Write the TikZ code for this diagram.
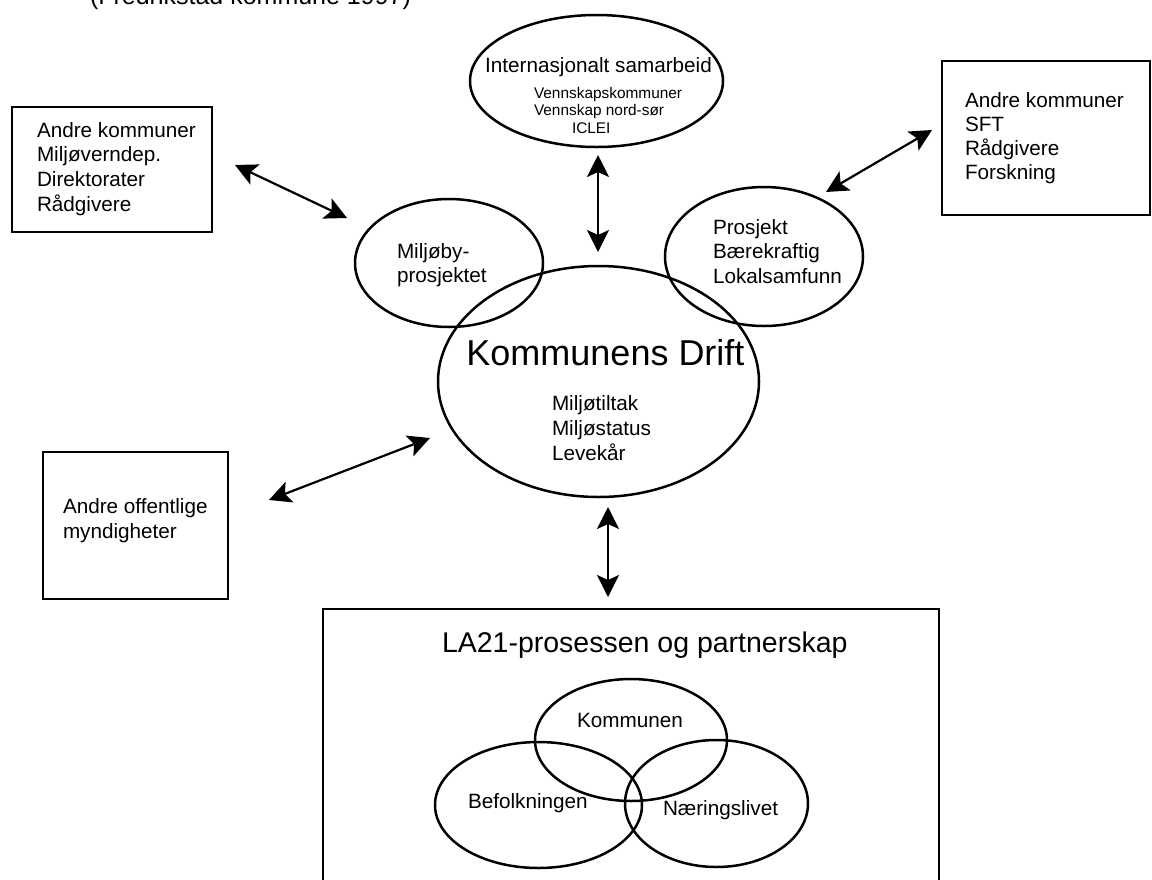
\documentclass[tikz,border=0pt]{standalone}
\usepackage{fontspec}
\setmainfont{Liberation Sans}
\usetikzlibrary{arrows.meta,shapes.geometric}
\newcommand{\mlL}[1]{\begin{tabular}[t]{@{}l@{}}#1\end{tabular}}
\tikzset{
  shp/.style={draw, line width=2.5pt, inner sep=0pt, outer sep=0pt},
  ell/.style={shp, ellipse},
  box/.style={shp, rectangle},
  txt/.style={anchor=base west, inner sep=0pt, outer sep=0pt, font=\fontsize{20.7}{24.8}\selectfont},
  con/.style={line width=2.2pt, {Stealth[length=22pt,width=22pt,inset=5pt]}-{Stealth[length=22pt,width=22pt,inset=5pt]}}
}
\begin{document}
\begin{tikzpicture}[x=1pt,y=-1pt]
\useasboundingbox (0,0) rectangle (1152,879);
\clip (0,0) rectangle (1152,879);
% caption (cut at top, as in the reference)
\node[txt, font=\fontsize{25}{30}\selectfont] (cap) at (90,4.5) {(Fredrikstad kommune 1997)};
% boxes
\node[box, minimum width=200pt, minimum height=125pt] (tl) at (112,169.5) {};
\node[box, minimum width=208pt, minimum height=154pt] (tr) at (1046,138) {};
\node[box, minimum width=185pt, minimum height=147pt] (lm) at (135.5,525.5) {};
\node[box, minimum width=616pt, minimum height=291pt] (la) at (631,754.5) {};
% ellipses
\node[ell, minimum width=253pt, minimum height=132pt] (int) at (596.5,81) {};
\node[ell, minimum width=188pt, minimum height=128pt] (mb) at (449,263) {};
\node[ell, minimum width=198pt, minimum height=139pt] (pb) at (764,256.5) {};
\node[ell, minimum width=321pt, minimum height=231pt] (kd) at (598.5,381.5) {};
\node[ell, minimum width=192pt, minimum height=122pt] (ko) at (631,740) {};
\node[ell, minimum width=207pt, minimum height=126pt] (be) at (538.5,805) {};
\node[ell, minimum width=183pt, minimum height=127pt] (nl) at (716.5,803.5) {};
% texts
\node[txt] (tlt) at (37,137) {\mlL{Andre kommuner\\Miljøverndep.\\Direktorater\\Rådgivere}};
\node[txt, font=\fontsize{20.7}{24.3}\selectfont] (trt) at (965,107) {\mlL{Andre kommuner\\SFT\\Rådgivere\\Forskning}};
\node[txt, font=\fontsize{20.7}{25}\selectfont] (lmt) at (63,513) {\mlL{Andre offentlige\\myndigheter}};
\node[txt, anchor=base] (intt) at (598.5,72) {Internasjonalt samarbeid};
\node[txt, font=\fontsize{15.4}{17.5}\selectfont] (ints) at (534,98) {\mlL{Vennskapskommuner\\Vennskap nord-sør\\\hspace*{38pt}ICLEI}};
\node[txt, font=\fontsize{20.7}{24}\selectfont] (mbt) at (397,258) {\mlL{Miljøby-\\prosjektet}};
\node[txt, font=\fontsize{20.7}{24.5}\selectfont] (pbt) at (713,234) {\mlL{Prosjekt\\Bærekraftig\\Lokalsamfunn}};
\node[txt, anchor=base, font=\fontsize{36}{40}\selectfont] (kdt) at (605.5,365) {Kommunens Drift};
\node[txt, font=\fontsize{20.7}{25}\selectfont] (kds) at (552,410) {\mlL{Miljøtiltak\\Miljøstatus\\Levekår}};
\node[txt, font=\fontsize{28.5}{32}\selectfont] (lat) at (442,652) {LA21-prosessen og partnerskap};
\node[txt, anchor=base] (kot) at (630,727) {Kommunen};
\node[txt] (bet) at (468,808) {Befolkningen};
\node[txt] (nlt) at (663,815) {Næringslivet};
% connector ends
\coordinate (a1s) at (235,165); \coordinate (a1e) at (347,218);
\coordinate (a2s) at (598,155); \coordinate (a2e) at (598,252);
\coordinate (a3s) at (826,192); \coordinate (a3e) at (932,130);
\coordinate (a4s) at (269,500); \coordinate (a4e) at (430,438);
\coordinate (a5s) at (608,507); \coordinate (a5e) at (608,597);
\draw[con] (a1s) -- (a1e);
\draw[con] (a2s) -- (a2e);
\draw[con] (a3s) -- (a3e);
\draw[con] (a4s) -- (a4e);
\draw[con] (a5s) -- (a5e);
\end{tikzpicture}
\end{document}
